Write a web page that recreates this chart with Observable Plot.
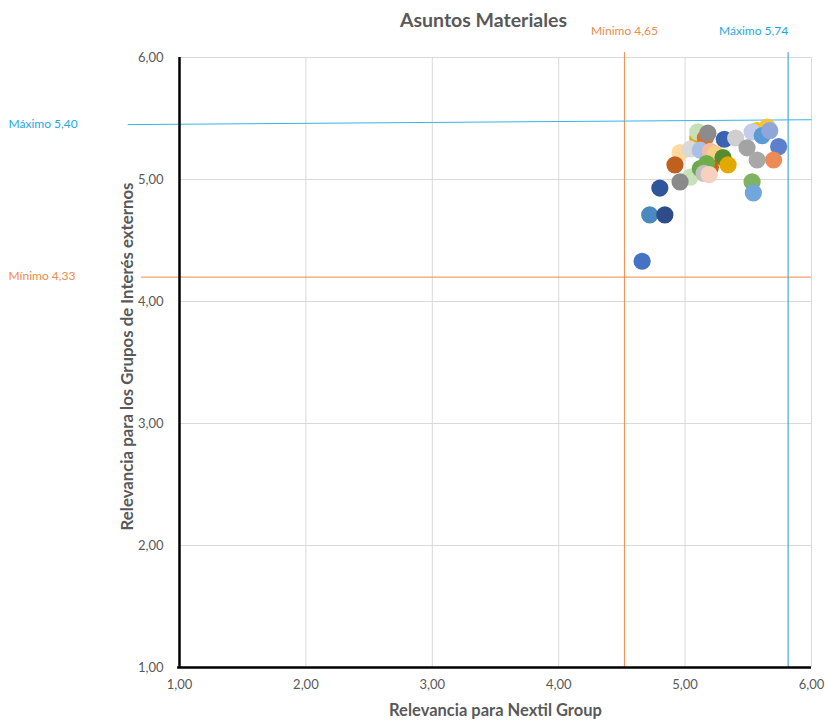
<!DOCTYPE html>
<html>
<head>
<meta charset="utf-8">
<script src="https://cdn.jsdelivr.net/npm/d3@7"></script>
<script src="https://cdn.jsdelivr.net/npm/@observablehq/plot@0.6"></script>
<style>
  html, body { margin: 0; padding: 0; background: #fff; }
  #chart svg { display: block; }
</style>
</head>
<body>
<div id="chart"></div>
<script>
// Data: relevance for Nextil Group (x) and external stakeholders (y)
const relNextil = [5.10,5.10,5.16,5.18,5.31,5.40,5.57,5.65,5.53,5.61,5.67,5.49,5.74,
  4.96,5.04,5.12,5.20,5.24,5.30,4.92,5.34,5.57,5.70,5.20,5.04,5.12,5.17,5.15,5.19,4.96,4.80,5.53,5.54,4.72,4.84,4.66];
const relExternos = [5.34,5.39,5.34,5.38,5.33,5.34,5.40,5.43,5.39,5.36,5.40,5.26,5.27,
  5.22,5.25,5.24,5.23,5.21,5.18,5.12,5.12,5.16,5.16,5.10,5.02,5.09,5.13,5.05,5.04,4.98,4.93,4.98,4.89,4.71,4.71,4.33];
const colores = ["#e3aa1c","#c5e0b4","#d8702e","#8c8c8c","#3a62b0","#cfcfcf","#ffc000","#f5c342","#c3cce8","#5b9bd5","#8fa6d8","#a3a3a3","#5d80cc",
  "#ffd9a0","#d9d9d9","#a9bfe6","#f4bba5","#f9cf86","#548c2f","#c0601f","#e2aa00","#a8a8a8","#ee8a58","#d26012","#c8e2b8","#6aa84f","#70ad47","#c0c0c0","#f8d0c0","#8a8a8a","#2f559b","#7fb263","#70a6dc","#4a88c0","#2e4c88","#4472c4"];

// Reference lines as drawn in the picture
const refVert = [{x: 4.52, color: "#f08a4b"}, {x: 5.815, color: "#1f9bd6"}];
const refHorizOrange = [{y: 4.20, x1: 0.70, x2: 6}];
const refHorizBlue = [{x1: 0.59, y1: 5.45, x2: 6, y2: 5.49}];
const etiquetas = {minX: "Mínimo 4,65", maxX: "Máximo 5,74", maxY: "Máximo 5,40", minY: "Mínimo 4,33"};
const ticks = [1, 2, 3, 4, 5, 6];

const points = relNextil.map((x, i) => ({x, y: relExternos[i], c: colores[i]}));
const fmt = d => d.toFixed(2).replace(".", ",");
const txt = "#595959";

const plot = Plot.plot({
  width: 825,
  height: 722,
  marginLeft: 179,
  marginRight: 14,
  marginTop: 57,
  marginBottom: 55,
  style: {fontFamily: "Lato, 'Open Sans', sans-serif", background: "#fff"},
  x: {domain: [1, 6]},
  y: {domain: [1, 6]},
  color: {type: "identity"},
  marks: [
    Plot.ruleX(ticks.slice(1), {stroke: "#d9d9d9", strokeWidth: 1}),
    Plot.ruleY(ticks.slice(1), {stroke: "#d9d9d9", strokeWidth: 1}),
    Plot.axisX(ticks, {tickSize: 0, tickPadding: 12, tickFormat: fmt, fontSize: 13, fill: txt, label: null}),
    Plot.axisY(ticks, {tickSize: 0, tickPadding: 16, tickFormat: fmt, fontSize: 13, fill: txt, label: null}),
    Plot.ruleX(refVert, {x: "x", y1: 6.04, y2: 1, stroke: "color", strokeWidth: 1}),
    Plot.ruleY(refHorizOrange, {y: "y", x1: "x1", x2: "x2", stroke: "#f08a4b", strokeWidth: 1}),
    Plot.link(refHorizBlue, {x1: "x1", y1: "y1", x2: "x2", y2: "y2", stroke: "#36b4e6", strokeWidth: 1}),
    Plot.ruleX([1], {stroke: "#000", strokeWidth: 2.5}),
    Plot.ruleY([1], {stroke: "#000", strokeWidth: 2.5, x1: 0.985, x2: 6}),
    Plot.dot(points, {x: "x", y: "y", r: 8.6, fill: "c", stroke: "none"}),
    // Title and axis labels
    Plot.text(["Asuntos Materiales"], {frameAnchor: "top", dx: -12, dy: -44, fontSize: 19.5, fontWeight: "bold", fill: txt}),
    Plot.text(["Relevancia para Nextil Group"], {frameAnchor: "bottom", dy: 48, fontSize: 16.5, fontWeight: "bold", fill: txt}),
    Plot.text(["Relevancia para los Grupos de Interés externos"], {frameAnchor: "left", textAnchor: "middle", dx: -52, dy: -6, rotate: -90, fontSize: 16.8, fontWeight: "bold", fill: txt}),
    // Annotations
    Plot.text([etiquetas.minX], {x: refVert[0].x, frameAnchor: "top", dy: -31, fontSize: 12, fill: "#f08a4b"}),
    Plot.text([etiquetas.maxX], {x: refVert[1].x, frameAnchor: "top", dy: -31, textAnchor: "end", fontSize: 12, fill: "#1fa7e0"}),
    Plot.text([etiquetas.maxY], {y: 5.455, frameAnchor: "left", dx: -171, textAnchor: "start", fontSize: 12, fill: "#1fa7e0"}),
    Plot.text([etiquetas.minY], {y: 4.21, frameAnchor: "left", dx: -171, textAnchor: "start", fontSize: 12, fill: "#f08a4b"})
  ]
});
document.getElementById("chart").appendChild(plot);
</script>
</body>
</html>
